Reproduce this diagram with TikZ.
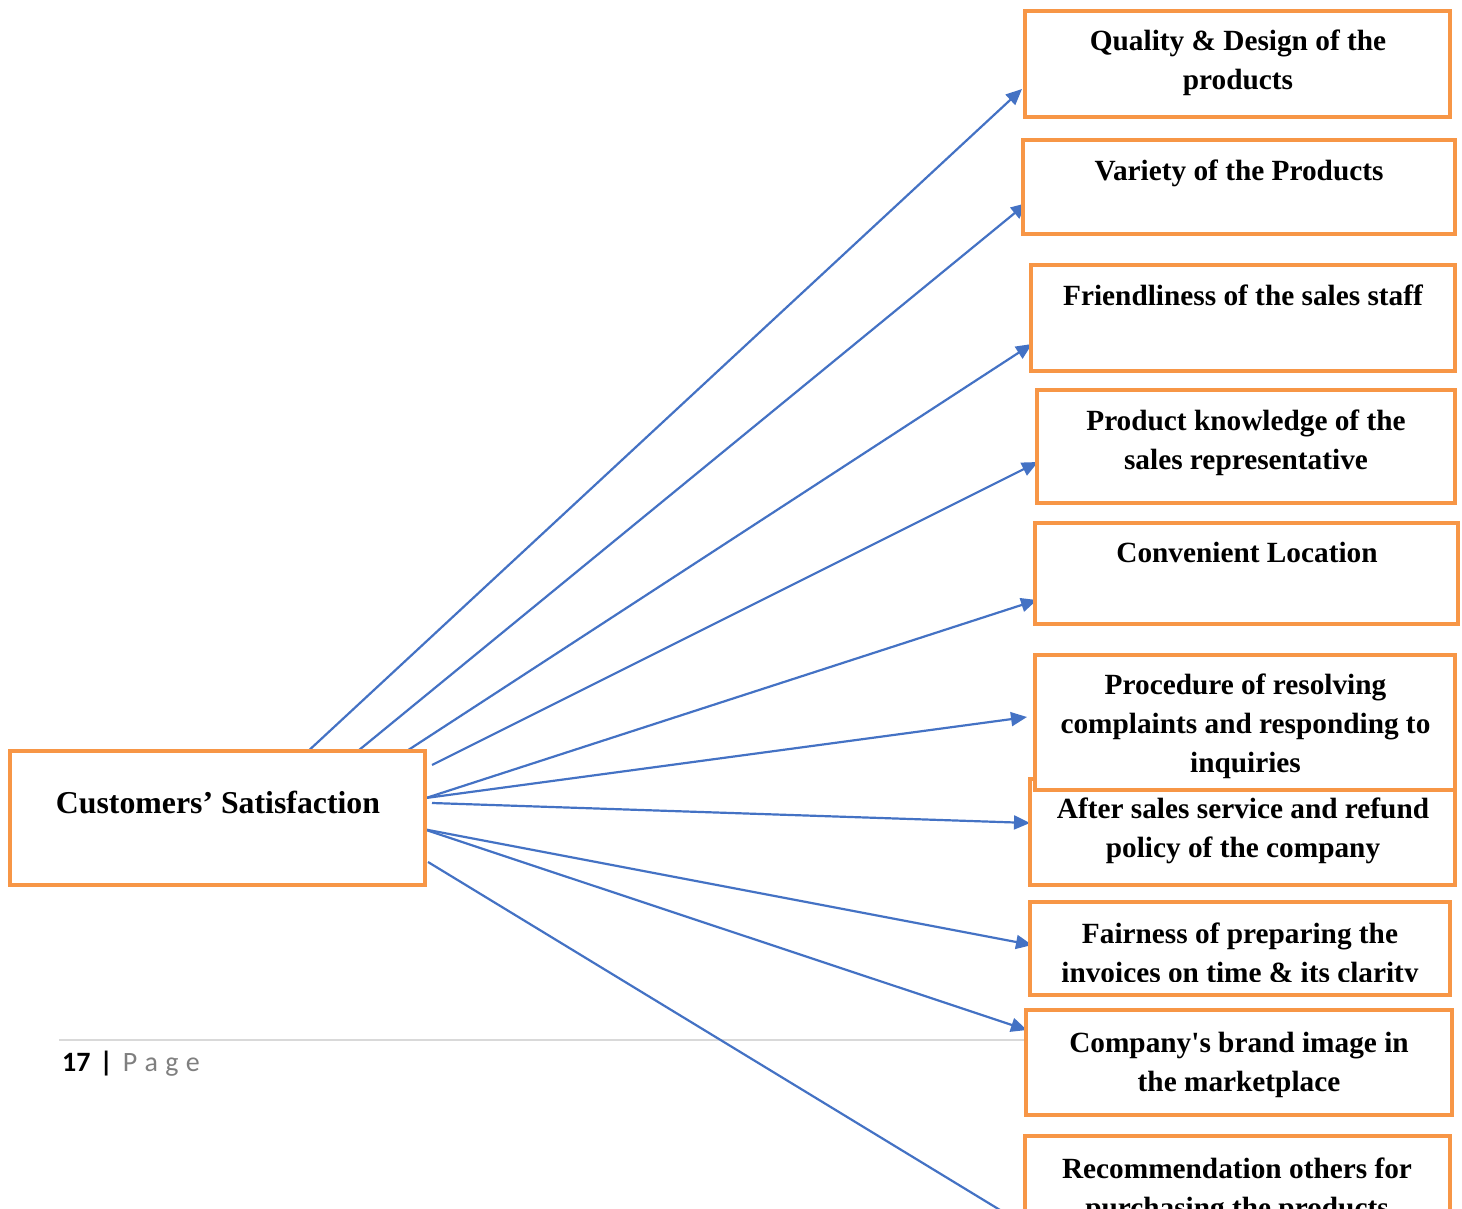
\documentclass[tikz,border=0pt]{standalone}
\usepackage[usenames,dvipsnames]{xcolor}
\usepackage{fontspec}
\setmainfont{Liberation Serif}
\newfontfamily\footfont{Carlito}
\usetikzlibrary{arrows.meta}
\definecolor{boxorange}{HTML}{F79646}
\definecolor{arrowblue}{HTML}{4472C4}
\definecolor{pagegray}{HTML}{7F7F7F}
\definecolor{rulegray}{HTML}{D9D9D9}

\begin{document}
\begin{tikzpicture}[x=1pt,y=-1pt,
  frame/.style={draw=boxorange, line width=4pt, fill=white, inner sep=0pt, outer sep=0pt, anchor=north west},
  boxtext/.style={font=\bfseries\fontsize{29.3}{39}\selectfont, align=center, inner sep=0pt, anchor=north},
  link/.style={draw=arrowblue, line width=2.2pt, -{Triangle[length=16pt,width=14pt]}}]
\useasboundingbox (0,0) rectangle (1462,1209);
\clip (0,0) rectangle (1462,1209);

% page footer
\draw [rulegray, line width=1.5pt] (59,1040) -- (1300,1040);
\node [anchor=base west, inner sep=0pt, font=\footfont\fontsize{28}{34}\selectfont] (pg) at (62,1071)
        {{\bfseries 17\hspace{9pt}|}\hspace{10pt}{\color{pagegray}P\hspace{1pt} a\hspace{1pt} g\hspace{1pt} e}};

% arrows
\coordinate (s1) at (305,754);   \coordinate (e1) at (1022,89);
\coordinate (s2) at (353,755);   \coordinate (e2) at (1027,203);
\coordinate (s3) at (396,758);   \coordinate (e3) at (1032,344);
\coordinate (s4) at (432,765);   \coordinate (e4) at (1038,462);
\coordinate (s5) at (426,798);   \coordinate (e5) at (1037,600);
\coordinate (s6) at (426,798);   \coordinate (e6) at (1027,717);
\coordinate (s7) at (432,803);   \coordinate (e7) at (1030,823);
\coordinate (s8) at (423,829);   \coordinate (e8) at (1032,945);
\coordinate (s9) at (423,829);   \coordinate (e9) at (1027,1030);
\coordinate (s10) at (428,862);  \coordinate (e10) at (1023,1224);
\draw [link] (s1) -- (e1);
\draw [link] (s2) -- (e2);
\draw [link] (s3) -- (e3);
\draw [link] (s4) -- (e4);
\draw [link] (s5) -- (e5);
\draw [link] (s6) -- (e6);
\draw [link] (s7) -- (e7);
\draw [link] (s8) -- (e8);
\draw [link] (s9) -- (e9);
\draw [link] (s10) -- (e10);

% centre box
\node [frame, minimum width=415pt, minimum height=134pt] (cs) at (10,751) {};
\node [boxtext, font=\bfseries\fontsize{31.8}{39}\selectfont] (cst) at (218,791) {Customers’ Satisfaction};

% factor boxes
\node [frame, minimum width=425pt, minimum height=106pt] (qbox) at (1025,11) {};
\node [boxtext] (q) at (1238,30) {Quality \& Design of the\\products};

\node [frame, minimum width=432pt, minimum height=94pt] (vbox) at (1023,140) {};
\node [boxtext] (v) at (1239,160) {Variety of the Products};

\node [frame, minimum width=424pt, minimum height=106pt] (fbox) at (1031,265) {};
\node [boxtext] (f) at (1243,285) {Friendliness of the sales staff};

\node [frame, minimum width=418pt, minimum height=113pt] (kbox) at (1037,390) {};
\node [boxtext] (k) at (1246,410) {Product knowledge of the\\sales representative};

\node [frame, minimum width=423pt, minimum height=101pt] (lbox) at (1035,523) {};
\node [boxtext] (l) at (1247,542) {Convenient Location};

\node [frame, minimum width=425pt, minimum height=106pt] (abox) at (1030,779) {};
\node [boxtext] (a) at (1243,798) {After sales service and refund\\policy of the company};

\node [frame, minimum width=420pt, minimum height=135pt] (rbox) at (1035,655) {};
\node [boxtext] (r) at (1245.5,674) {Procedure of resolving\\complaints and responding to\\inquiries};

\node [frame, minimum width=420pt, minimum height=93pt] (ibox) at (1030,902) {};
\begin{scope}
\clip (1032,904) rectangle (1448,981);
\node [boxtext] (i) at (1240,923) {Fairness of preparing the\\invoices on time \& its clarity};
\end{scope}

\node [frame, minimum width=426pt, minimum height=105pt] (bbox) at (1026,1010) {};
\node [boxtext] (b) at (1239,1032) {Company\textquotesingle s brand image in\\the marketplace};

\node [frame, minimum width=425pt, minimum height=110pt] (mbox) at (1025,1136) {};
\node [boxtext] (m) at (1237,1158) {Recommendation others for\\purchasing the products};
\end{tikzpicture}
\end{document}
